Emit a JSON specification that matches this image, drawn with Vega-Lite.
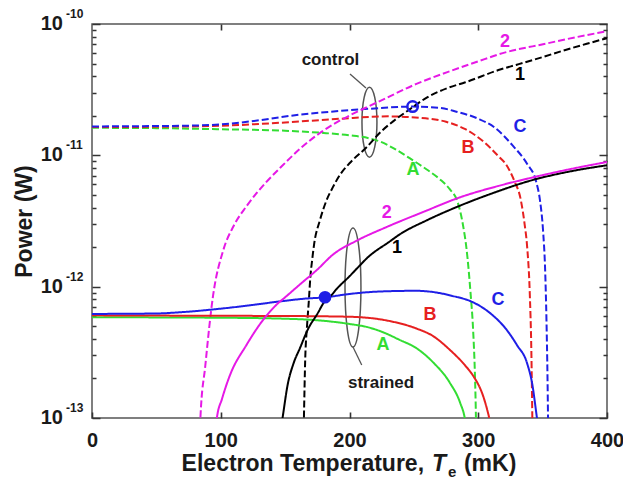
{
  "$schema": "https://vega.github.io/schema/vega-lite/v6.json",
  "width": 515,
  "height": 394,
  "autosize": "none",
  "padding": {"left": 92, "top": 24, "right": 16, "bottom": 64},
  "background": "white",
  "config": {
    "view": {"stroke": "#555555", "strokeWidth": 1.5, "fill": null},
    "font": "Liberation Sans"
  },
  "datasets": {
    "curves": [
      {"s":"A","t":"control","T":0,"P":1.62e-11},{"s":"A","t":"control","T":50,"P":1.61e-11},{"s":"A","t":"control","T":100,"P":1.58e-11},{"s":"A","t":"control","T":150,"P":1.54e-11},{"s":"A","t":"control","T":180,"P":1.48e-11},{"s":"A","t":"control","T":200,"P":1.42e-11},{"s":"A","t":"control","T":215,"P":1.35e-11},{"s":"A","t":"control","T":224,"P":1.27e-11},{"s":"A","t":"control","T":235,"P":1.12e-11},{"s":"A","t":"control","T":249,"P":9.2e-12},{"s":"A","t":"control","T":260,"P":7.8e-12},{"s":"A","t":"control","T":270,"P":6.6e-12},{"s":"A","t":"control","T":278,"P":5.5e-12},{"s":"A","t":"control","T":284,"P":4.4e-12},{"s":"A","t":"control","T":288,"P":3.0e-12},{"s":"A","t":"control","T":291,"P":1.9e-12},{"s":"A","t":"control","T":294,"P":9e-13},{"s":"A","t":"control","T":296,"P":4.7e-13},{"s":"A","t":"control","T":297.5,"P":2e-13},{"s":"A","t":"control","T":298.2,"P":1e-13},{"s":"A","t":"control","T":298.6,"P":5e-14},
      {"s":"B","t":"control","T":0,"P":1.64e-11},{"s":"B","t":"control","T":50,"P":1.65e-11},{"s":"B","t":"control","T":100,"P":1.68e-11},{"s":"B","t":"control","T":150,"P":1.78e-11},{"s":"B","t":"control","T":193,"P":1.9e-11},{"s":"B","t":"control","T":230,"P":1.98e-11},{"s":"B","t":"control","T":255,"P":1.93e-11},{"s":"B","t":"control","T":275,"P":1.8e-11},{"s":"B","t":"control","T":290,"P":1.58e-11},{"s":"B","t":"control","T":305,"P":1.25e-11},{"s":"B","t":"control","T":315,"P":1.0e-11},{"s":"B","t":"control","T":322,"P":8.4e-12},{"s":"B","t":"control","T":328,"P":6.4e-12},{"s":"B","t":"control","T":333,"P":4.6e-12},{"s":"B","t":"control","T":336,"P":3.0e-12},{"s":"B","t":"control","T":338,"P":2.0e-12},{"s":"B","t":"control","T":340,"P":9e-13},{"s":"B","t":"control","T":341.3,"P":3e-13},{"s":"B","t":"control","T":342,"P":1e-13},{"s":"B","t":"control","T":342.4,"P":5e-14},
      {"s":"C","t":"control","T":0,"P":1.66e-11},{"s":"C","t":"control","T":70,"P":1.68e-11},{"s":"C","t":"control","T":100,"P":1.72e-11},{"s":"C","t":"control","T":130,"P":1.85e-11},{"s":"C","t":"control","T":146,"P":1.95e-11},{"s":"C","t":"control","T":161.5,"P":2.04e-11},{"s":"C","t":"control","T":193,"P":2.18e-11},{"s":"C","t":"control","T":215,"P":2.26e-11},{"s":"C","t":"control","T":249,"P":2.35e-11},{"s":"C","t":"control","T":270,"P":2.3e-11},{"s":"C","t":"control","T":283,"P":2.15e-11},{"s":"C","t":"control","T":300,"P":1.9e-11},{"s":"C","t":"control","T":313,"P":1.62e-11},{"s":"C","t":"control","T":327,"P":1.18e-11},{"s":"C","t":"control","T":338,"P":8.6e-12},{"s":"C","t":"control","T":345,"P":6.3e-12},{"s":"C","t":"control","T":348,"P":4.5e-12},{"s":"C","t":"control","T":350.3,"P":2.7e-12},{"s":"C","t":"control","T":352,"P":1.3e-12},{"s":"C","t":"control","T":353,"P":5.5e-13},{"s":"C","t":"control","T":353.8,"P":2e-13},{"s":"C","t":"control","T":354.2,"P":1e-13},{"s":"C","t":"control","T":354.6,"P":5e-14},
      {"s":"1","t":"control","T":164,"P":5e-14},{"s":"1","t":"control","T":164.6,"P":1e-13},{"s":"1","t":"control","T":165.6,"P":2.8e-13},{"s":"1","t":"control","T":167,"P":5e-13},{"s":"1","t":"control","T":168.5,"P":8e-13},{"s":"1","t":"control","T":169.5,"P":1.15e-12},{"s":"1","t":"control","T":171,"P":1.6e-12},{"s":"1","t":"control","T":172.5,"P":2.1e-12},{"s":"1","t":"control","T":177,"P":3.2e-12},{"s":"1","t":"control","T":182,"P":4.5e-12},{"s":"1","t":"control","T":187,"P":5.7e-12},{"s":"1","t":"control","T":193,"P":7.2e-12},{"s":"1","t":"control","T":200,"P":8.7e-12},{"s":"1","t":"control","T":213.6,"P":1.16e-11},{"s":"1","t":"control","T":224,"P":1.5e-11},{"s":"1","t":"control","T":235,"P":1.85e-11},{"s":"1","t":"control","T":247,"P":2.25e-11},{"s":"1","t":"control","T":260,"P":2.75e-11},{"s":"1","t":"control","T":276,"P":3.25e-11},{"s":"1","t":"control","T":290,"P":3.6e-11},{"s":"1","t":"control","T":317,"P":4.5e-11},{"s":"1","t":"control","T":330,"P":4.9e-11},{"s":"1","t":"control","T":350,"P":5.6e-11},{"s":"1","t":"control","T":369,"P":6.4e-11},{"s":"1","t":"control","T":385,"P":7.1e-11},{"s":"1","t":"control","T":400,"P":7.8e-11},
      {"s":"2","t":"control","T":83.5,"P":5e-14},{"s":"2","t":"control","T":84.2,"P":1e-13},{"s":"2","t":"control","T":88,"P":2.5e-13},{"s":"2","t":"control","T":94,"P":8.5e-13},{"s":"2","t":"control","T":102,"P":1.9e-12},{"s":"2","t":"control","T":110,"P":2.9e-12},{"s":"2","t":"control","T":120,"P":4.1e-12},{"s":"2","t":"control","T":135,"P":6.2e-12},{"s":"2","t":"control","T":146,"P":8e-12},{"s":"2","t":"control","T":161.5,"P":1.12e-11},{"s":"2","t":"control","T":177,"P":1.48e-11},{"s":"2","t":"control","T":190,"P":1.78e-11},{"s":"2","t":"control","T":213.6,"P":2.33e-11},{"s":"2","t":"control","T":224,"P":2.6e-11},{"s":"2","t":"control","T":252,"P":3.5e-11},{"s":"2","t":"control","T":276,"P":4.3e-11},{"s":"2","t":"control","T":300,"P":5.2e-11},{"s":"2","t":"control","T":319,"P":6e-11},{"s":"2","t":"control","T":353,"P":7.1e-11},{"s":"2","t":"control","T":375,"P":7.9e-11},{"s":"2","t":"control","T":400,"P":8.8e-11},
      {"s":"A","t":"strained","T":0,"P":5.85e-13},{"s":"A","t":"strained","T":100,"P":5.8e-13},{"s":"A","t":"strained","T":150,"P":5.7e-13},{"s":"A","t":"strained","T":175,"P":5.55e-13},{"s":"A","t":"strained","T":200,"P":5.2e-13},{"s":"A","t":"strained","T":213.6,"P":4.93e-13},{"s":"A","t":"strained","T":226,"P":4.5e-13},{"s":"A","t":"strained","T":239,"P":3.93e-13},{"s":"A","t":"strained","T":252,"P":3.4e-13},{"s":"A","t":"strained","T":265,"P":2.65e-13},{"s":"A","t":"strained","T":278,"P":1.85e-13},{"s":"A","t":"strained","T":286,"P":1.3e-13},{"s":"A","t":"strained","T":289.5,"P":1e-13},{"s":"A","t":"strained","T":291,"P":8e-14},
      {"s":"B","t":"strained","T":0,"P":6.05e-13},{"s":"B","t":"strained","T":100,"P":6.0e-13},{"s":"B","t":"strained","T":150,"P":5.98e-13},{"s":"B","t":"strained","T":200,"P":5.9e-13},{"s":"B","t":"strained","T":230,"P":5.5e-13},{"s":"B","t":"strained","T":252,"P":4.8e-13},{"s":"B","t":"strained","T":265,"P":4.2e-13},{"s":"B","t":"strained","T":278,"P":3.3e-13},{"s":"B","t":"strained","T":290,"P":2.5e-13},{"s":"B","t":"strained","T":296,"P":2.1e-13},{"s":"B","t":"strained","T":304,"P":1.45e-13},{"s":"B","t":"strained","T":307,"P":1.15e-13},{"s":"B","t":"strained","T":308.5,"P":1e-13},{"s":"B","t":"strained","T":310,"P":8e-14},
      {"s":"C","t":"strained","T":0,"P":6.2e-13},{"s":"C","t":"strained","T":50,"P":6.25e-13},{"s":"C","t":"strained","T":70,"P":6.4e-13},{"s":"C","t":"strained","T":100,"P":6.8e-13},{"s":"C","t":"strained","T":122,"P":7.2e-13},{"s":"C","t":"strained","T":145,"P":7.7e-13},{"s":"C","t":"strained","T":165,"P":8.1e-13},{"s":"C","t":"strained","T":181,"P":8.3e-13},{"s":"C","t":"strained","T":200,"P":8.8e-13},{"s":"C","t":"strained","T":225,"P":9.2e-13},{"s":"C","t":"strained","T":252,"P":9.3e-13},{"s":"C","t":"strained","T":265,"P":9.1e-13},{"s":"C","t":"strained","T":280,"P":8.5e-13},{"s":"C","t":"strained","T":296,"P":7.6e-13},{"s":"C","t":"strained","T":310,"P":6.2e-13},{"s":"C","t":"strained","T":322,"P":4.7e-13},{"s":"C","t":"strained","T":330,"P":3.6e-13},{"s":"C","t":"strained","T":338,"P":2.6e-13},{"s":"C","t":"strained","T":342,"P":1.8e-13},{"s":"C","t":"strained","T":345.6,"P":1e-13},{"s":"C","t":"strained","T":347,"P":8e-14},
      {"s":"1","t":"strained","T":146.5,"P":8e-14},{"s":"1","t":"strained","T":148,"P":1e-13},{"s":"1","t":"strained","T":152,"P":1.8e-13},{"s":"1","t":"strained","T":156.5,"P":2.6e-13},{"s":"1","t":"strained","T":161.5,"P":3.4e-13},{"s":"1","t":"strained","T":168,"P":4.8e-13},{"s":"1","t":"strained","T":175,"P":6.2e-13},{"s":"1","t":"strained","T":181,"P":7.8e-13},{"s":"1","t":"strained","T":185,"P":8.4e-13},{"s":"1","t":"strained","T":190,"P":9.6e-13},{"s":"1","t":"strained","T":200,"P":1.2e-12},{"s":"1","t":"strained","T":208,"P":1.45e-12},{"s":"1","t":"strained","T":213.6,"P":1.65e-12},{"s":"1","t":"strained","T":231,"P":2.2e-12},{"s":"1","t":"strained","T":239,"P":2.5e-12},{"s":"1","t":"strained","T":260,"P":3.2e-12},{"s":"1","t":"strained","T":283.5,"P":4.05e-12},{"s":"1","t":"strained","T":310,"P":5.1e-12},{"s":"1","t":"strained","T":342.6,"P":6.5e-12},{"s":"1","t":"strained","T":370,"P":7.5e-12},{"s":"1","t":"strained","T":400,"P":8.4e-12},
      {"s":"2","t":"strained","T":96,"P":8e-14},{"s":"2","t":"strained","T":97,"P":1e-13},{"s":"2","t":"strained","T":101,"P":1.4e-13},{"s":"2","t":"strained","T":107,"P":2.1e-13},{"s":"2","t":"strained","T":120,"P":3.6e-13},{"s":"2","t":"strained","T":133,"P":5.6e-13},{"s":"2","t":"strained","T":144,"P":7.4e-13},{"s":"2","t":"strained","T":150,"P":8.3e-13},{"s":"2","t":"strained","T":162,"P":1.05e-12},{"s":"2","t":"strained","T":175,"P":1.35e-12},{"s":"2","t":"strained","T":187,"P":1.75e-12},{"s":"2","t":"strained","T":206,"P":2.25e-12},{"s":"2","t":"strained","T":229,"P":2.85e-12},{"s":"2","t":"strained","T":260,"P":3.8e-12},{"s":"2","t":"strained","T":283.5,"P":4.7e-12},{"s":"2","t":"strained","T":320,"P":6e-12},{"s":"2","t":"strained","T":342.6,"P":6.8e-12},{"s":"2","t":"strained","T":370,"P":7.8e-12},{"s":"2","t":"strained","T":400,"P":8.9e-12}
    ],
    "labels": [
      {"s":"2","T":320.8,"P":7.3e-11},{"s":"1","T":332.4,"P":4.09e-11},{"s":"C","T":332.4,"P":1.64e-11},{"s":"B","T":292,"P":1.14e-11},{"s":"A","T":249.3,"P":7.7e-12},
      {"s":"2","T":229,"P":3.64e-12},{"s":"1","T":236.9,"P":1.97e-12},{"s":"B","T":262.5,"P":6.08e-13},{"s":"C","T":315.3,"P":7.9e-13},{"s":"A","T":226,"P":3.6e-13}
    ],
    "notes": [
      {"label":"control","T":185.2,"P":5.32e-11},
      {"label":"strained","T":224.5,"P":1.85e-13}
    ],
    "leaders": [
      {"T":200.4,"P":4.16e-11,"T2":212.8,"P2":3.26e-11},
      {"T":202.7,"P":3.47e-13,"T2":209.5,"P2":2.53e-13}
    ],
    "ellControl": [{"T":215.5,"P":1.79e-11}],
    "ellStrained": [{"T":202.7,"P":9.86e-13}],
    "openPt": [{"T":249,"P":2.35e-11}],
    "solidPt": [{"T":181,"P":8.3e-13}],
    "ylab": [
      {"P":1e-13,"exp":"-13"},{"P":1e-12,"exp":"-12"},{"P":1e-11,"exp":"-11"},{"P":1e-10,"exp":"-10"}
    ],
    "xtitle": [
      {"part":"Electron Temperature,","T":257.9},
      {"part":"T","T":264.1},
      {"part":"e","T":276.5},
      {"part":"(mK)","T":288.9}
    ]
  },
  "layer": [
    {
      "data": {"name": "curves"},
      "mark": {"type": "point", "opacity": 0},
      "encoding": {
        "x": {"field": "T", "type": "quantitative", "scale": {"domain": [0, 400], "nice": false, "zero": false},
          "axis": {"orient": "top", "values": [100, 200, 300], "labels": false, "domain": false, "grid": false, "tickSize": -6, "tickColor": "#333333", "tickWidth": 1.6, "title": null}},
        "y": {"field": "P", "type": "quantitative", "scale": {"type": "log", "domain": [1e-13, 1e-10], "nice": false},
          "axis": {"orient": "right", "values": [1e-13,2e-13,3e-13,4e-13,5e-13,6e-13,7e-13,8e-13,9e-13,1e-12,2e-12,3e-12,4e-12,5e-12,6e-12,7e-12,8e-12,9e-12,1e-11,2e-11,3e-11,4e-11,5e-11,6e-11,7e-11,8e-11,9e-11,1e-10],
            "labels": false, "domain": false, "grid": false, "tickColor": "#333333", "tickWidth": 1.5,
            "tickSize": {"condition": {"test": "abs(log(datum.value)/LN10 - round(log(datum.value)/LN10)) < 0.001", "value": -8}, "value": -4},
            "title": null}}
      }
    },
    {
      "data": {"name": "ellControl"},
      "mark": {"type": "point", "shape": "M0,-1C0.118,-1,0.214,-0.552,0.214,0C0.214,0.552,0.118,1,0,1C-0.118,1,-0.214,0.552,-0.214,0C-0.214,-0.552,-0.118,-1,0,-1Z", "size": 4900, "filled": false, "stroke": "#555555", "strokeWidth": 1.5, "opacity": 1},
      "encoding": {
        "x": {"field": "T", "type": "quantitative", "axis": null},
        "y": {"field": "P", "type": "quantitative", "axis": null}
      }
    },
    {
      "data": {"name": "ellStrained"},
      "mark": {"type": "point", "shape": "M0,-1C0.074,-1,0.134,-0.552,0.134,0C0.134,0.552,0.074,1,0,1C-0.074,1,-0.134,0.552,-0.134,0C-0.134,-0.552,-0.074,-1,0,-1Z", "size": 14161, "filled": false, "stroke": "#555555", "strokeWidth": 1.5, "opacity": 1},
      "encoding": {
        "x": {"field": "T", "type": "quantitative", "axis": null},
        "y": {"field": "P", "type": "quantitative", "axis": null}
      }
    },
    {
      "data": {"name": "leaders"},
      "mark": {"type": "rule", "stroke": "#555555", "strokeWidth": 1.3},
      "encoding": {
        "x": {"field": "T", "type": "quantitative", "axis": null},
        "y": {"field": "P", "type": "quantitative", "axis": null},
        "x2": {"field": "T2"},
        "y2": {"field": "P2"}
      }
    },
    {
      "data": {"name": "curves"},
      "mark": {"type": "line", "clip": true, "strokeWidth": 2, "interpolate": "monotone"},
      "encoding": {
        "x": {"field": "T", "type": "quantitative",
          "axis": {"orient": "bottom", "values": [0, 100, 200, 300, 400], "format": "d", "domain": false, "grid": false, "tickSize": -6, "tickColor": "#333333", "tickWidth": 1.6,
            "labelFont": "Liberation Sans", "labelFontWeight": "bold", "labelFontSize": 20, "labelColor": "#1a1a1a", "labelPadding": 18, "labelFlush": false, "title": null}},
        "y": {"field": "P", "type": "quantitative",
          "axis": {"orient": "left", "values": [1e-13,2e-13,3e-13,4e-13,5e-13,6e-13,7e-13,8e-13,9e-13,1e-12,2e-12,3e-12,4e-12,5e-12,6e-12,7e-12,8e-12,9e-12,1e-11,2e-11,3e-11,4e-11,5e-11,6e-11,7e-11,8e-11,9e-11,1e-10],
            "labels": false, "domain": false, "grid": false, "tickColor": "#333333", "tickWidth": 1.5,
            "tickSize": {"condition": {"test": "abs(log(datum.value)/LN10 - round(log(datum.value)/LN10)) < 0.001", "value": -8}, "value": -4},
            "title": "Power (W)", "titleX": -68, "titleY": 197, "titleAngle": -90, "titleAlign": "center", "titleBaseline": "middle",
            "titleFont": "Liberation Sans", "titleFontWeight": "bold", "titleFontSize": 23, "titleColor": "#1a1a1a"}},
        "color": {"field": "s", "type": "nominal", "scale": {"domain": ["A", "B", "C", "1", "2"], "range": ["#33dd33", "#e62020", "#1f1fe6", "#000000", "#e619e6"]}, "legend": null},
        "strokeDash": {"field": "t", "type": "nominal", "scale": {"domain": ["control", "strained"], "range": [[7, 3], [1, 0]]}, "legend": null}
      }
    },
    {
      "data": {"name": "openPt"},
      "mark": {"type": "point", "shape": "circle", "size": 110, "filled": false, "stroke": "#1f1fe6", "strokeWidth": 2.5, "opacity": 1},
      "encoding": {
        "x": {"field": "T", "type": "quantitative", "axis": null},
        "y": {"field": "P", "type": "quantitative", "axis": null}
      }
    },
    {
      "data": {"name": "solidPt"},
      "mark": {"type": "point", "shape": "circle", "size": 160, "filled": true, "fill": "#1f1fe6", "opacity": 1},
      "encoding": {
        "x": {"field": "T", "type": "quantitative", "axis": null},
        "y": {"field": "P", "type": "quantitative", "axis": null}
      }
    },
    {
      "data": {"name": "labels"},
      "mark": {"type": "text", "font": "Liberation Sans", "fontWeight": "bold", "fontSize": 18, "align": "center", "baseline": "middle"},
      "encoding": {
        "x": {"field": "T", "type": "quantitative", "axis": null},
        "y": {"field": "P", "type": "quantitative", "axis": null},
        "text": {"field": "s"},
        "color": {"field": "s", "type": "nominal", "legend": null}
      }
    },
    {
      "data": {"name": "notes"},
      "mark": {"type": "text", "font": "Liberation Sans", "fontWeight": "bold", "fontSize": 17, "align": "center", "baseline": "middle", "color": "#1a1a1a"},
      "encoding": {
        "x": {"field": "T", "type": "quantitative", "axis": null},
        "y": {"field": "P", "type": "quantitative", "axis": null},
        "text": {"field": "label"}
      }
    },
    {
      "data": {"name": "ylab"},
      "mark": {"type": "text", "font": "Liberation Sans", "fontWeight": "bold", "fontSize": 20, "align": "right", "baseline": "middle", "dx": -29, "color": "#1a1a1a"},
      "encoding": {
        "x": {"datum": 0, "type": "quantitative", "axis": null},
        "y": {"field": "P", "type": "quantitative", "axis": null},
        "text": {"value": "10"}
      }
    },
    {
      "data": {"name": "ylab"},
      "mark": {"type": "text", "font": "Liberation Sans", "fontWeight": "bold", "fontSize": 12, "align": "left", "baseline": "middle", "dx": -26, "dy": -10, "color": "#1a1a1a"},
      "encoding": {
        "x": {"datum": 0, "type": "quantitative", "axis": null},
        "y": {"field": "P", "type": "quantitative", "axis": null},
        "text": {"field": "exp"}
      }
    },
    {
      "data": {"name": "xtitle"},
      "transform": [{"filter": "datum.part == 'Electron Temperature,'"}],
      "mark": {"type": "text", "font": "Liberation Sans", "fontWeight": "bold", "fontSize": 23, "align": "right", "baseline": "alphabetic", "dy": 53, "color": "#1a1a1a"},
      "encoding": {
        "x": {"field": "T", "type": "quantitative", "axis": null},
        "y": {"datum": 1e-13, "type": "quantitative", "axis": null},
        "text": {"field": "part"}
      }
    },
    {
      "data": {"name": "xtitle"},
      "transform": [{"filter": "datum.part == 'T'"}],
      "mark": {"type": "text", "font": "Liberation Sans", "fontWeight": "bold", "fontStyle": "italic", "fontSize": 23, "align": "left", "baseline": "alphabetic", "dy": 53, "color": "#1a1a1a"},
      "encoding": {
        "x": {"field": "T", "type": "quantitative", "axis": null},
        "y": {"datum": 1e-13, "type": "quantitative", "axis": null},
        "text": {"field": "part"}
      }
    },
    {
      "data": {"name": "xtitle"},
      "transform": [{"filter": "datum.part == 'e'"}],
      "mark": {"type": "text", "font": "Liberation Sans", "fontWeight": "bold", "fontSize": 15, "align": "left", "baseline": "alphabetic", "dy": 59, "color": "#1a1a1a"},
      "encoding": {
        "x": {"field": "T", "type": "quantitative", "axis": null},
        "y": {"datum": 1e-13, "type": "quantitative", "axis": null},
        "text": {"field": "part"}
      }
    },
    {
      "data": {"name": "xtitle"},
      "transform": [{"filter": "datum.part == '(mK)'"}],
      "mark": {"type": "text", "font": "Liberation Sans", "fontWeight": "bold", "fontSize": 23, "align": "left", "baseline": "alphabetic", "dy": 53, "color": "#1a1a1a"},
      "encoding": {
        "x": {"field": "T", "type": "quantitative", "axis": null},
        "y": {"datum": 1e-13, "type": "quantitative", "axis": null},
        "text": {"field": "part"}
      }
    }
  ],
  "resolve": {"axis": {"x": "independent", "y": "independent"}}
}
